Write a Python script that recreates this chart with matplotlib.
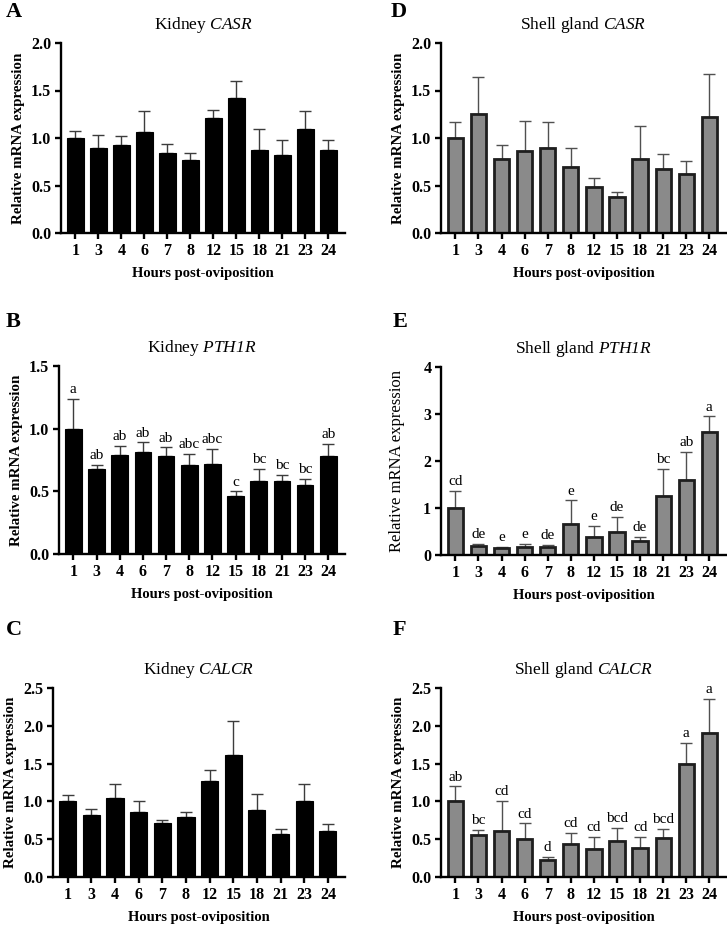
import matplotlib
matplotlib.use("Agg")
import matplotlib.pyplot as plt
import numpy as np

plt.rcParams["font.family"] = ["Liberation Serif", "DejaVu Serif"]
plt.rcParams["mathtext.fontset"] = "custom"
plt.rcParams["mathtext.rm"] = "Liberation Serif:italic"
plt.rcParams["mathtext.it"] = "Liberation Serif:italic"

hours = ["1", "3", "4", "6", "7", "8", "12", "15", "18", "21", "23", "24"]

# kidney
kid_casr = [1.00, 0.89, 0.93, 1.06, 0.84, 0.77, 1.21, 1.42, 0.87, 0.82, 1.10, 0.87]
kid_casr_top = [1.07, 1.03, 1.02, 1.28, 0.94, 0.84, 1.29, 1.60, 1.10, 0.98, 1.28, 0.98]
kid_pth = [1.00, 0.68, 0.79, 0.81, 0.78, 0.71, 0.72, 0.46, 0.58, 0.58, 0.55, 0.78]
kid_pth_top = [1.24, 0.71, 0.86, 0.89, 0.85, 0.80, 0.84, 0.50, 0.68, 0.63, 0.60, 0.88]
kid_pth_letters = ["a", "ab", "ab", "ab", "ab", "abc", "abc", "c", "bc", "bc", "bc", "ab"]
kid_calcr = [1.00, 0.82, 1.04, 0.86, 0.71, 0.79, 1.27, 1.61, 0.88, 0.57, 1.00, 0.61]
kid_calcr_top = [1.08, 0.90, 1.23, 1.01, 0.76, 0.86, 1.41, 2.07, 1.10, 0.64, 1.23, 0.70]

# shell gland
sg_casr = [1.00, 1.25, 0.78, 0.86, 0.89, 0.70, 0.48, 0.38, 0.78, 0.67, 0.62, 1.22]
sg_casr_top = [1.17, 1.64, 0.93, 1.18, 1.17, 0.90, 0.58, 0.43, 1.13, 0.83, 0.76, 1.67]
sg_pth = [1.00, 0.20, 0.14, 0.18, 0.18, 0.67, 0.38, 0.50, 0.29, 1.26, 1.59, 2.62]
sg_pth_top = [1.36, 0.23, 0.17, 0.24, 0.22, 1.16, 0.62, 0.81, 0.38, 1.84, 2.19, 2.95]
sg_pth_letters = ["cd", "de", "e", "e", "de", "e", "e", "de", "de", "bc", "ab", "a"]
sg_calcr = [1.00, 0.55, 0.61, 0.50, 0.22, 0.44, 0.37, 0.48, 0.38, 0.52, 1.50, 1.91]
sg_calcr_top = [1.20, 0.62, 1.01, 0.71, 0.27, 0.58, 0.53, 0.65, 0.53, 0.64, 1.77, 2.36]
sg_calcr_letters = ["ab", "bc", "cd", "cd", "d", "cd", "cd", "bcd", "cd", "bcd", "a", "a"]

W, H = 727, 925
fig = plt.figure(figsize=(W / 100, H / 100), dpi=100)


def px_axes(x0, x1, ytop, ybot):
    return fig.add_axes([x0 / W, 1 - ybot / H, (x1 - x0) / W, (ybot - ytop) / H])


panels = [
    # letter, title, values, tops, letters, ymax, yticks, fmt, shell, box, letter pos
    ("A", r"Kidney $CASR$", kid_casr, kid_casr_top, None, 2.0,
     [0, 0.5, 1.0, 1.5, 2.0], "{:.1f}", False, (61, 345, 43, 233), (6, 12)),
    ("B", r"Kidney $PTH1R$", kid_pth, kid_pth_top, kid_pth_letters, 1.5,
     [0, 0.5, 1.0, 1.5], "{:.1f}", False, (59, 345, 366, 554), (6, 322)),
    ("C", r"Kidney $CALCR$", kid_calcr, kid_calcr_top, None, 2.5,
     [0, 0.5, 1.0, 1.5, 2.0, 2.5], "{:.1f}", False, (53, 345, 688, 877), (6, 630)),
    ("D", r"Shell gland $CASR$", sg_casr, sg_casr_top, None, 2.0,
     [0, 0.5, 1.0, 1.5, 2.0], "{:.1f}", True, (441, 726, 43, 233), (391, 12)),
    ("E", r"Shell gland $PTH1R$", sg_pth, sg_pth_top, sg_pth_letters, 4,
     [0, 1, 2, 3, 4], "{:.0f}", True, (441, 726, 367, 555), (393, 322)),
    ("F", r"Shell gland $CALCR$", sg_calcr, sg_calcr_top, sg_calcr_letters, 2.5,
     [0, 0.5, 1.0, 1.5, 2.0, 2.5], "{:.1f}", True, (441, 726, 688, 877), (393, 630)),
]

for tag, title, vals, tops, letters, ymax, yticks, fmt, shell, box, lpos in panels:
    ax = px_axes(*box)
    x = np.arange(len(hours))
    vals = np.array(vals)
    err = np.array(tops) - vals
    if shell:
        ax.bar(x, vals, width=0.66, color="#8a8a8a", edgecolor="#1e1e1e", linewidth=2.0, zorder=2)
        ecol = "#505050"
    else:
        ax.bar(x, vals, width=0.72, color="black", edgecolor="black", linewidth=0.8, zorder=2)
        ecol = "#3c3c3c"
    ax.errorbar(x, vals, yerr=[np.zeros_like(err), err], fmt="none", ecolor=ecol,
                elinewidth=1.0, capsize=4, capthick=1.0, zorder=1)
    if letters:
        for xi, t, lab in zip(x, tops, letters):
            ax.annotate(lab, (xi, t), xytext=(0, 2), textcoords="offset points",
                        ha="center", va="bottom", fontsize=11)
    ax.set_xlim(-0.62, 11.72)
    ax.set_ylim(0, ymax)
    ax.set_yticks(yticks)
    ax.set_yticklabels([fmt.format(v) for v in yticks], fontweight="bold", fontsize=11.5)
    ax.set_xticks(x)
    ax.set_xticklabels(hours, fontweight="bold", fontsize=11.5)
    ax.spines["top"].set_visible(False)
    ax.spines["right"].set_visible(False)
    for s in ("left", "bottom"):
        ax.spines[s].set_linewidth(1.7)
    ax.tick_params(width=1.7, length=4.5, pad=2.5)
    if tag == "E":
        ax.set_ylabel("Relative mRNA expression", fontsize=12, labelpad=13)
    else:
        ax.set_ylabel("Relative mRNA expression", fontweight="bold", fontsize=10.8, labelpad=4)
    ax.set_xlabel("Hours post-oviposition", fontweight="bold", fontsize=10.5, labelpad=6)
    ax.set_title(title, fontsize=12.5, pad=10)
    fig.text(lpos[0] / W, 1 - lpos[1] / H, tag, fontsize=16, fontweight="bold",
             ha="left", va="center")

fig.savefig("out.png", dpi=100)
